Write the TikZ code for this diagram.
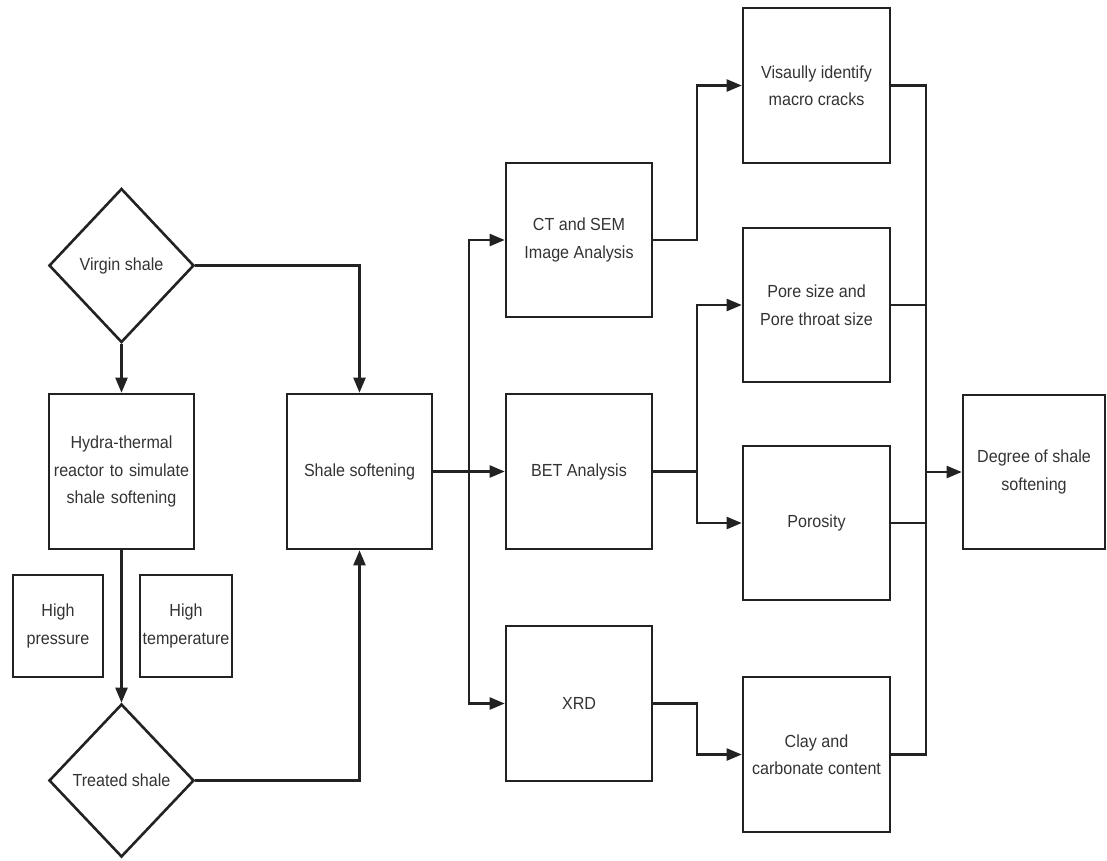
\documentclass[tikz,border=0pt]{standalone}
\usepackage{fontspec}
\newfontfamily\lab[FakeStretch=0.92]{Liberation Sans}
\usetikzlibrary{shapes.geometric,arrows.meta}
\definecolor{ln}{HTML}{222222}
\definecolor{tx}{HTML}{333333}
\begin{document}
\begin{tikzpicture}[x=1pt,y=-1pt,
  box/.style={draw=ln,line width=2.6pt,rectangle,inner sep=2pt,align=center,text=tx,
    font=\lab\fontsize{17.5}{27.5}\selectfont},
  dia/.style={draw=ln,line width=2.6pt,diamond,inner sep=0pt,align=center,text=tx,
    font=\lab\fontsize{17.5}{27.5}\selectfont},
  con/.style={draw=ln,line width=2.3pt},
  arr/.style={con,-{Triangle[length=15pt,width=12pt]}}]
\useasboundingbox (0,0) rectangle (1107,860);
% nodes
\node[dia,minimum width=145,minimum height=154] (vs) at (121.5,265.5) {Virgin shale};
\node[box,minimum width=145,minimum height=155,text width=140] (hy) at (121.5,471.5) {Hydra-thermal\\reactor to simulate\\shale softening};
\node[box,minimum width=90,minimum height=102] (hp) at (58,626) {High\\pressure};
\node[box,minimum width=92,minimum height=102] (ht) at (186,626) {High\\temperature};
\node[dia,minimum width=145,minimum height=153] (ts) at (121.5,780.5) {Treated shale};
\node[box,minimum width=145,minimum height=155] (ss) at (359.5,471.5) {Shale softening};
\node[box,minimum width=146,minimum height=154] (ct) at (579,240) {CT and SEM\\Image Analysis};
\node[box,minimum width=146,minimum height=155] (bet) at (579,471.5) {BET Analysis};
\node[box,minimum width=146,minimum height=155] (xrd) at (579,703.5) {XRD};
\node[box,minimum width=147,minimum height=155] (vis) at (816.5,85.5) {Visaully identify\\macro cracks};
\node[box,minimum width=147,minimum height=154] (pore) at (816.5,305) {Pore size and\\Pore throat size};
\node[box,minimum width=147,minimum height=154] (por) at (816.5,523) {Porosity};
\node[box,minimum width=147,minimum height=155] (clay) at (816.5,754.5) {Clay and\\carbonate content};
\node[box,minimum width=142,minimum height=154] (deg) at (1034,472) {Degree of shale\\softening};
% junction coordinates
\coordinate (sp) at (469,471.5);
\coordinate (j1) at (697,240);
\coordinate (j2) at (697,471.5);
\coordinate (j3) at (697,703.5);
\coordinate (k1) at (926,85.5);
\coordinate (k2) at (926,305);
\coordinate (k3) at (926,523);
\coordinate (k4) at (926,754.5);
\coordinate (k0) at (926,472);
% connectors
\draw[arr] (vs.south) -- (hy.north);
\draw[arr] (hy.south) -- (ts.north);
\draw[arr] (vs.east) -| (ss.north);
\draw[arr] (ts.east) -| (ss.south);
\draw[arr] (ss.east) -- (bet.west);
\draw[arr] (sp) |- (ct.west);
\draw[arr] (sp) |- (xrd.west);
\draw[arr] (ct.east) -- (j1) |- (vis.west);
\draw[con] (bet.east) -- (j2);
\draw[arr] (j2) |- (pore.west);
\draw[arr] (j2) |- (por.west);
\draw[arr] (xrd.east) -- (j3) |- (clay.west);
\draw[con] (vis.east) -- (k1) -- (k4) -- (clay.east);
\draw[con] (pore.east) -- (k2);
\draw[con] (por.east) -- (k3);
\draw[arr] (k0) -- (deg.west);
\end{tikzpicture}
\end{document}
